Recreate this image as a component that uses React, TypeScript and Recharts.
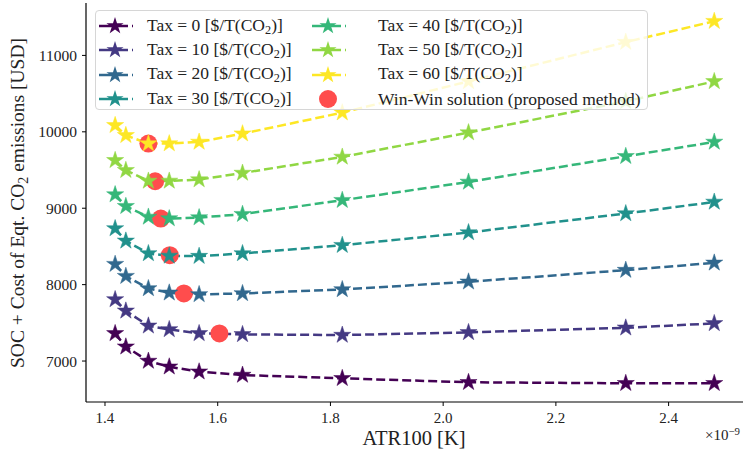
import React from 'react';
import { ComposedChart, Line, Scatter, XAxis, YAxis } from 'recharts';

const atr = [1.418, 1.437, 1.477, 1.514, 1.567, 1.644, 1.821, 2.045, 2.324, 2.481];
const tax0 = [7362, 7187, 7000, 6925, 6860, 6817, 6774, 6722, 6709, 6709];
const tax10 = [7806, 7657, 7461, 7414, 7362, 7349, 7340, 7375, 7435, 7493];
const tax20 = [8268, 8111, 7950, 7893, 7872, 7885, 7937, 8037, 8190, 8285];
const tax30 = [8735, 8573, 8408, 8376, 8373, 8408, 8516, 8682, 8931, 9082];
const tax40 = [9179, 9026, 8886, 8865, 8878, 8922, 9105, 9344, 9680, 9867];
const tax50 = [9627, 9497, 9357, 9357, 9375, 9461, 9671, 9990, 10399, 10660];
const tax60 = [10085, 9954, 9846, 9846, 9867, 9976, 10251, 10660, 11174, 11448];

const winX = [1.477, 1.489, 1.499, 1.515, 1.54, 1.603];
const winY = [9846, 9353, 8865, 8386, 7885, 7362];

const taxLabels = ['0', '10', '20', '30', '40', '50', '60'];
const colors = ['#440154', '#443983', '#31688e', '#21918c', '#35b779', '#90d743', '#fde725'];
const xTicks = [1.4, 1.6, 1.8, 2.0, 2.2, 2.4];
const yTicks = [7000, 8000, 9000, 10000, 11000];

const seriesList = [tax0, tax10, tax20, tax30, tax40, tax50, tax60];
const table = atr.map((x, i) => {
  const row: any = { x };
  seriesList.forEach((s, k) => (row['t' + k] = s[i]));
  return row;
});
const winData = winX.map((x, i) => ({ x, y: winY[i] }));

const FONT = "'Liberation Serif', 'DejaVu Serif', serif";

function starPath(cx: number, cy: number, R: number) {
  const r = R * 0.382;
  const pts: string[] = [];
  for (let i = 0; i < 10; i++) {
    const rad = i % 2 === 0 ? R : r;
    const a = -Math.PI / 2 + (i * Math.PI) / 5;
    pts.push(`${(cx + rad * Math.cos(a)).toFixed(2)},${(cy + rad * Math.sin(a)).toFixed(2)}`);
  }
  return 'M' + pts.join('L') + 'Z';
}

const makeDot = (color: string) => (props: any) => {
  const { cx, cy, index } = props;
  if (cx == null || cy == null) return <g key={index} />;
  return <path key={index} d={starPath(cx, cy, 9)} fill={color} stroke={color} strokeWidth={0.5} />;
};

const YLabel = () => (
  <text
    x={0}
    y={0}
    transform="translate(24,203) rotate(-90)"
    textAnchor="middle"
    fontFamily={FONT}
    fontSize={19.5}
    fill="#222"
  >
    SOC + Cost of Eqt. CO
    <tspan dy={4} fontSize={14}>2</tspan>
    <tspan dy={-4}> emissions [USD]</tspan>
  </text>
);

const XLabel = () => (
  <text x={414} y={445} textAnchor="middle" fontFamily={FONT} fontSize={20.5} fill="#222">
    ATR100 [K]
  </text>
);

const LegendHandle = ({ color, circle }: { color?: string; circle?: boolean }) => (
  <svg width={40} height={20} style={{ display: 'block' }}>
    {circle ? (
      <circle cx={19} cy={10} r={9} fill="#ff4d4d" />
    ) : (
      <>
        <line x1={3} y1={10} x2={32} y2={10} stroke={color} strokeWidth={2.5} />
        <line x1={36} y1={10} x2={37} y2={10} stroke={color} strokeWidth={2.5} />
        <path d={starPath(19, 10, 9)} fill={color} />
      </>
    )}
  </svg>
);

const LegendText = ({ t }: { t: string }) => (
  <span>
    Tax = {t} [$/T(CO<sub style={{ fontSize: '0.7em', verticalAlign: '-0.25em' }}>2</sub>)]
  </span>
);

export default function App() {
  const col1 = [0, 1, 2, 3];
  const col2 = [4, 5, 6];
  return (
    <div style={{ position: 'absolute', left: 0, top: 0, width: 745, height: 456, background: '#fff' }}>
      <ComposedChart width={745} height={456} data={table} margin={{ top: 3, right: 2, left: 0, bottom: 0 }}>
        <XAxis
          dataKey="x"
          type="number"
          domain={[1.3663, 2.532]}
          ticks={xTicks}
          allowDataOverflow
          tickFormatter={(v: number) => v.toFixed(1)}
          height={54}
          tickSize={4}
          tickMargin={6}
          stroke="#000"
          axisLine={{ stroke: '#000', strokeWidth: 1.2 }}
          tickLine={{ stroke: '#000' }}
          tick={{ fill: '#222', fontSize: 15, fontFamily: FONT }}
          label={<XLabel />}
        />
        <XAxis xAxisId="top" orientation="top" type="number" domain={[0, 1]} height={0} tick={false} tickLine={false} axisLine={{ stroke: '#000', strokeWidth: 1.2 }} />
        <YAxis
          type="number"
          domain={[6464, 11686]}
          ticks={yTicks}
          allowDataOverflow
          width={86}
          tickSize={4}
          tickMargin={5}
          axisLine={{ stroke: '#000', strokeWidth: 1.2 }}
          tickLine={{ stroke: '#000' }}
          tick={{ fill: '#222', fontSize: 15.5, fontFamily: FONT }}
          label={<YLabel />}
        />
        <YAxis yAxisId="right" orientation="right" type="number" domain={[0, 1]} width={0} tick={false} tickLine={false} axisLine={{ stroke: '#000', strokeWidth: 1.2 }} />
        <Scatter data={winData} dataKey="y" fill="#ff4d4d" isAnimationActive={false} shape={(p: any) => <circle cx={p.cx} cy={p.cy} r={9} fill="#ff4d4d" />} />
        {colors.map((c, k) => (
          <Line
            key={k}
            type="linear"
            dataKey={'t' + k}
            stroke={c}
            strokeWidth={2.5}
            strokeDasharray="9 4"
            dot={makeDot(c)}
            activeDot={false}
            isAnimationActive={false}
          />
        ))}
      </ComposedChart>
      <div
        style={{
          position: 'absolute',
          left: 95,
          top: 10,
          width: 553,
          height: 100,
          boxSizing: 'border-box',
          background: 'rgba(255,255,255,0.8)',
          border: '1px solid #d6d6d6',
          borderRadius: 4,
          fontFamily: FONT,
          fontSize: 17.5,
          color: '#222',
        }}
      >
        <div style={{ position: 'absolute', left: 0, top: 3 }}>
          {col1.map((k) => (
            <div key={k} style={{ display: 'flex', alignItems: 'center', height: 24.3 }}>
              <LegendHandle color={colors[k]} />
              <div style={{ marginLeft: 11 }}>
                <LegendText t={taxLabels[k]} />
              </div>
            </div>
          ))}
        </div>
        <div style={{ position: 'absolute', left: 213, top: 3 }}>
          {col2.map((k) => (
            <div key={k} style={{ display: 'flex', alignItems: 'center', height: 24.3 }}>
              <LegendHandle color={colors[k]} />
              <div style={{ marginLeft: 29 }}>
                <LegendText t={taxLabels[k]} />
              </div>
            </div>
          ))}
          <div style={{ display: 'flex', alignItems: 'center', height: 24.3 }}>
            <LegendHandle circle />
            <div style={{ marginLeft: 29 }}>Win-Win solution (proposed method)</div>
          </div>
        </div>
      </div>
      <div style={{ position: 'absolute', left: 705, top: 425, fontFamily: FONT, fontSize: 15, color: '#222' }}>
        ×10<sup style={{ fontSize: '0.72em', verticalAlign: '0.45em' }}>−9</sup>
      </div>
    </div>
  );
}
